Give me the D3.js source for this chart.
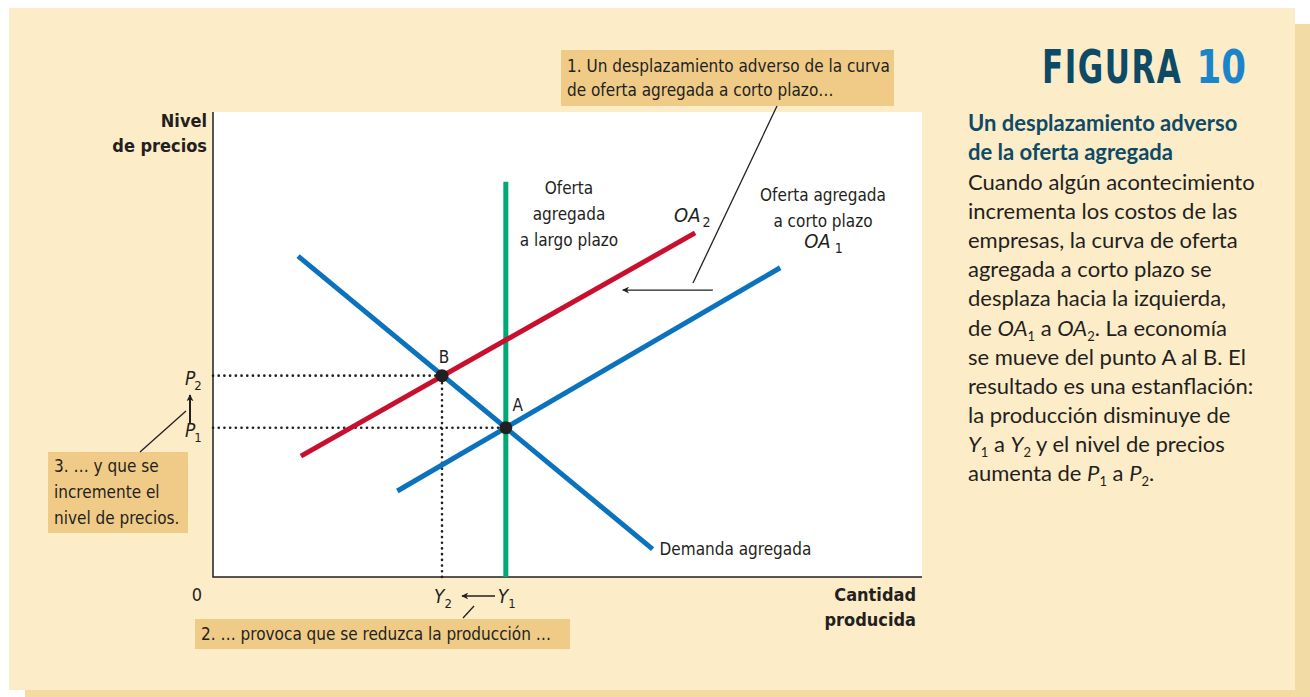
<!DOCTYPE html>
<html>
<head>
<meta charset="utf-8">
<script src="https://cdn.jsdelivr.net/npm/d3@7"></script>
<style>
  body { margin: 0; background: #fff; }
  .narrow { font-family: "Liberation Sans Narrow", "DejaVu Sans Condensed", "Roboto", sans-serif; }
  .body-text { font-family: "Lato", "Roboto", sans-serif; }
</style>
</head>
<body>
<svg id="chart" width="1310" height="697"></svg>
<script>
// Curves, in chart units (x: quantity 0-100, y: price level 0-100)
const longRun = [[41.3, 0], [41.3, 85]];
const demand = [[12, 69], [62, 6]];
const oa1 = [[26, 18.5], [80, 66.5]];
const oa2 = [[12.4, 26], [68, 74]];

// Equilibrium points
const points = [
    { name: "A", x: 41.3, y: 32.1 },
    { name: "B", x: 32.3, y: 43.3 }
];

// Axis tick labels
const priceTicks = [{ label: "P", sub: "2", y: 43.3 }, { label: "P", sub: "1", y: 32.1 }];
const qtyTicks = [{ label: "Y", sub: "2", x: 32.3 }, { label: "Y", sub: "1", x: 41.3 }];

const bodyLines = [
    ["Cuando algún acontecimiento"],
    ["incrementa los costos de las"],
    ["empresas, la curva de oferta"],
    ["agregada a corto plazo se"],
    ["desplaza hacia la izquierda,"],
    ["de ", ["OA", "1"], " a ", ["OA", "2"], ". La economía"],
    ["se mueve del punto A al B. El"],
    ["resultado es una estanflación:"],
    ["la producción disminuye de"],
    [["Y", "1"], " a ", ["Y", "2"], " y el nivel de precios"],
    ["aumenta de ", ["P", "1"], " a ", ["P", "2"], "."]
];

const svg = d3.select("#chart");
const ink = "#231f20";
const blue = "#0b72bd";
const red = "#c8102e";
const green = "#00a878";
const boxFill = "#efcb87";

// Panel and shadow
svg.append("rect").attr("x", 25).attr("y", 24).attr("width", 1285).attr("height", 673).attr("fill", "#f3dca4");
svg.append("rect").attr("x", 9).attr("y", 8).attr("width", 1286).attr("height", 682).attr("fill", "#fdecc8");

const margin = { left: 213, top: 112, right: 922, bottom: 577 };
const x = d3.scaleLinear().domain([0, 100]).range([margin.left, margin.right]);
const y = d3.scaleLinear().domain([0, 100]).range([margin.bottom, margin.top]);

// Plot area
svg.append("rect")
    .attr("x", margin.left).attr("y", margin.top)
    .attr("width", margin.right - margin.left).attr("height", margin.bottom - margin.top)
    .attr("fill", "#fff");

svg.append("path")
    .attr("d", `M${margin.left},${margin.top}V${margin.bottom}H${margin.right}`)
    .attr("fill", "none").attr("stroke", ink).attr("stroke-width", 1.5);

// Annotation boxes (text added later, on top)
const boxes = [
    { x: 561, y: 50, w: 333, h: 56, lines: ["1. Un desplazamiento adverso de la curva", "de oferta agregada a corto plazo…"], ty: 72, dy: 24 },
    { x: 48, y: 452, w: 140, h: 81, lines: ["3. … y que se", "incremente el", "nivel de precios."], ty: 472, dy: 26 },
    { x: 195, y: 619, w: 375, h: 30, lines: ["2. … provoca que se reduzca la producción …"], ty: 640, dy: 24 }
];
svg.selectAll(".box")
    .data(boxes)
    .enter()
    .append("rect")
    .attr("class", "box")
    .attr("x", d => d.x).attr("y", d => d.y)
    .attr("width", d => d.w).attr("height", d => d.h)
    .attr("fill", boxFill);

const defs = svg.append("defs");
defs.append("marker")
    .attr("id", "arrow")
    .attr("viewBox", "0 0 10 10")
    .attr("refX", 9).attr("refY", 5)
    .attr("markerWidth", 7).attr("markerHeight", 7)
    .attr("markerUnits", "userSpaceOnUse")
    .attr("orient", "auto")
    .append("path")
    .attr("d", "M0,0 L10,5 L0,10 L3,5 Z")
    .attr("fill", ink);

const line = d3.line().x(d => x(d[0])).y(d => y(d[1]));

// Dotted guides
const guide = svg.append("g")
    .attr("fill", "none").attr("stroke", ink)
    .attr("stroke-width", 2.6).attr("stroke-linecap", "round")
    .attr("stroke-dasharray", "0.1,5.6");
points.forEach(p => {
    guide.append("path").attr("d", line([[0, p.y], [p.x, p.y]]));
});
guide.append("path").attr("d", line([[points[1].x, 0], [points[1].x, points[1].y]]));

// Curves
const curves = [
    { data: longRun, color: green },
    { data: demand, color: blue },
    { data: oa1, color: blue },
    { data: oa2, color: red }
];
svg.selectAll(".curve")
    .data(curves)
    .enter()
    .append("path")
    .attr("class", "curve")
    .attr("d", d => line(d.data))
    .attr("fill", "none")
    .attr("stroke", d => d.color)
    .attr("stroke-width", 5);

svg.selectAll(".pt")
    .data(points)
    .enter()
    .append("circle")
    .attr("class", "pt")
    .attr("cx", d => x(d.x))
    .attr("cy", d => y(d.y))
    .attr("r", 6.5)
    .attr("fill", ink);

// Helper for multi-line text
function addLines(g, lines, xPos, y0, dy, anchor) {
    lines.forEach((t, i) => {
        g.append("text")
            .attr("x", xPos).attr("y", y0 + i * dy)
            .attr("text-anchor", anchor)
            .text(t);
    });
}

const labels = svg.append("g").attr("class", "narrow").attr("font-size", 17).attr("fill", ink);

// Point labels
labels.append("text").attr("x", x(points[0].x) + 12).attr("y", y(points[0].y) - 17).attr("text-anchor", "middle").text("A");
labels.append("text").attr("x", x(points[1].x) + 2).attr("y", y(points[1].y) - 13).attr("text-anchor", "middle").text("B");

// Curve labels
addLines(labels, ["Oferta", "agregada", "a largo plazo"], 569, 194, 26, "middle");
addLines(labels, ["Oferta agregada", "a corto plazo"], 823, 201, 26, "middle");
labels.append("text").attr("x", x(demand[1][0]) + 7).attr("y", y(demand[1][1]) + 6).text("Demanda agregada");

function subLabel(g, xPos, yPos, main, sub, anchor, size, subSize, gap) {
    const t = g.append("text").attr("x", xPos).attr("y", yPos).attr("text-anchor", anchor)
        .attr("font-size", size);
    t.append("tspan").attr("font-style", "italic").text(main);
    t.append("tspan").attr("dx", gap).attr("dy", 5).attr("font-size", subSize).text(sub);
    return t;
}
subLabel(labels, x(oa2[1][0]) - 21, y(oa2[1][1]) - 11, "OA", "2", "start", 20, 14, 2);
subLabel(labels, x(oa1[1][0]) + 24, y(oa1[1][1]) - 20, "OA", "1", "start", 20, 14, 4);

// Axis titles
const bold = svg.append("g").attr("class", "narrow").attr("font-size", 18).attr("font-weight", "bold").attr("fill", ink);
addLines(bold, ["Nivel", "de precios"], 207, 127, 25, "end");
addLines(bold, ["Cantidad", "producida"], 916, 601, 25, "end");
labels.append("text").attr("x", 197).attr("y", 601).attr("text-anchor", "middle").attr("font-size", 18).text("0");

// Tick labels
priceTicks.forEach(p => {
    subLabel(labels, 185, y(p.y) + 9, p.label, p.sub, "start", 19, 13, -1);
});
qtyTicks.forEach(q => {
    subLabel(labels, x(q.x) - 8, 603, q.label, q.sub, "start", 19, 13, 0);
});

// Arrows
const arrows = svg.append("g").attr("stroke", ink).attr("stroke-width", 1.3).attr("fill", "none");
arrows.append("path").attr("d", line([[70.5, 61.7], [57.8, 61.7]])).attr("marker-end", "url(#arrow)");
arrows.append("path").attr("d", `M190,423V395`).attr("stroke-width", 2).attr("marker-end", "url(#arrow)");
arrows.append("path").attr("d", `M495,596H462`).attr("stroke-width", 1.6).attr("marker-end", "url(#arrow)");

// Leader lines
arrows.append("path").attr("d", "M777,106L693,283");
arrows.append("path").attr("d", "M140,452L186,411");
arrows.append("path").attr("d", "M463,618L474,606");

// Box texts
boxes.forEach(b => addLines(labels, b.lines, b.x + 6, b.ty, b.dy, "start"));

// Side caption (condensed by a horizontal scale)
const titleG = svg.append("g").attr("class", "narrow")
    .attr("font-size", 46).attr("font-weight", "bold");
titleG.append("text").attr("transform", "translate(1042,83) scale(0.75,1)")
    .attr("fill", "#0d4a66").attr("letter-spacing", 2).text("FIGURA");
titleG.append("text").attr("transform", "translate(1246,83) scale(0.86,1)")
    .attr("text-anchor", "end").attr("fill", "#1a85c8").text("10");

const side = svg.append("g").attr("class", "body-text").attr("font-size", 22);
addLines(side.append("g").attr("font-weight", "bold").attr("fill", "#0d4a66"),
    ["Un desplazamiento adverso", "de la oferta agregada"], 968, 131, 29, "start");

bodyLines.forEach((parts, i) => {
    const t = side.append("text").attr("x", 968).attr("y", 190 + i * 29.1).attr("fill", ink);
    let shift = 0;
    parts.forEach(p => {
        if (typeof p === "string") {
            t.append("tspan").attr("dy", -shift).text(p);
            shift = 0;
        } else {
            t.append("tspan").attr("dy", -shift).attr("font-style", "italic").text(p[0]);
            t.append("tspan").attr("font-size", 13).attr("dy", 5).text(p[1]);
            shift = 5;
        }
    });
});
</script>
</body>
</html>
